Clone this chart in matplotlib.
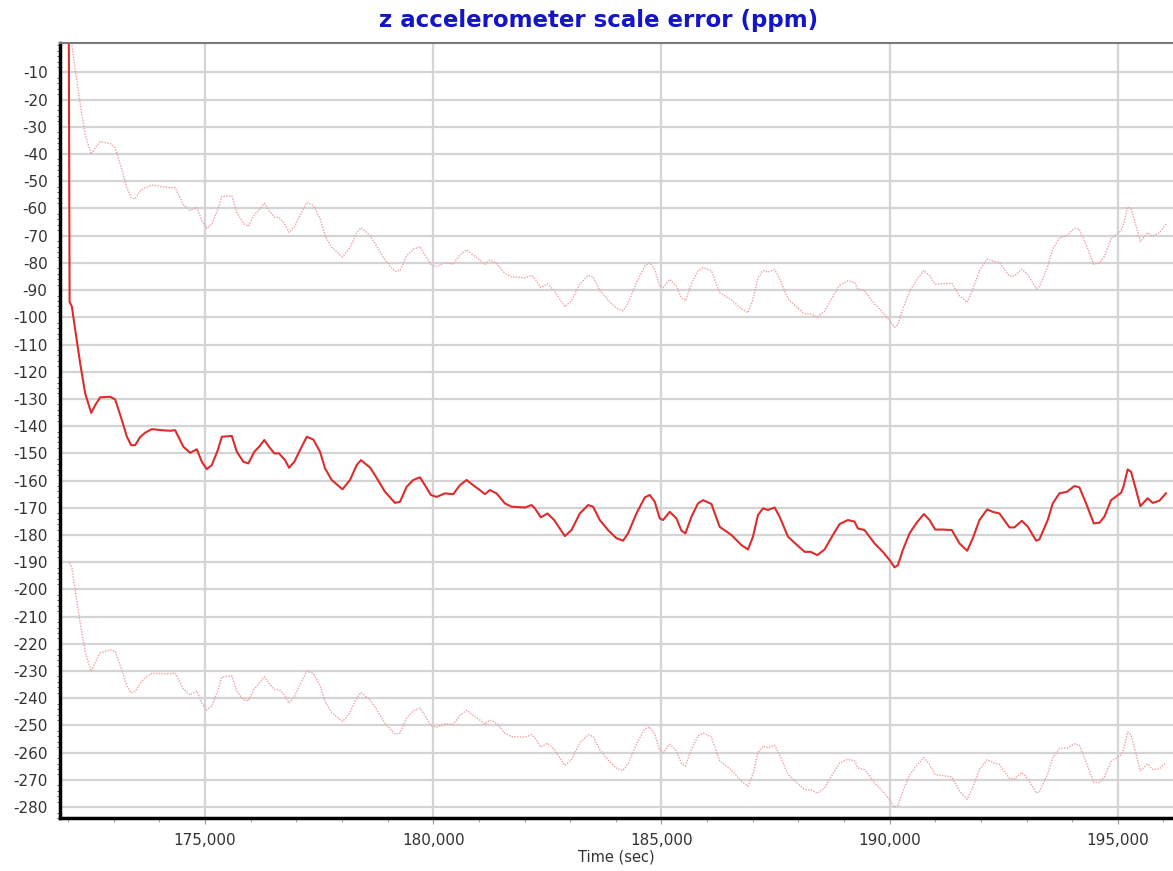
import numpy as np
import matplotlib
matplotlib.use("Agg")
import matplotlib.pyplot as plt
from matplotlib.ticker import MultipleLocator, FuncFormatter

plt.rcParams["axes.unicode_minus"] = False

# time (sec) and z accelerometer scale error estimate (ppm)
time_sec = [
    172010, 172030, 172081, 172154, 172263, 172372, 172504, 172591, 172701, 172920,
    173029, 173176, 173286, 173380, 173467, 173577, 173686, 173833, 174052, 174234,
    174343, 174525, 174672, 174818, 174928, 175037, 175147, 175278, 175366, 175585,
    175694, 175839, 175948, 176079, 176182, 176298, 176401, 176517, 176620, 176752,
    176839, 176955, 177080, 177227, 177371, 177518, 177628, 177774, 178010, 178175,
    178322, 178416, 178613, 178722, 178941, 179160, 179270, 179416, 179561, 179708,
    179817, 179948, 180073, 180255, 180437, 180583, 180730, 180875, 181021, 181131,
    181240, 181387, 181569, 181715, 182007, 182153, 182226, 182357, 182504, 182648,
    182883, 183029, 183211, 183393, 183502, 183649, 183831, 184015, 184159, 184269,
    184452, 184634, 184744, 184853, 184963, 185035, 185182, 185328, 185438, 185525,
    185657, 185801, 185911, 186095, 186276, 186533, 186752, 186896, 187006, 187115,
    187225, 187334, 187481, 187590, 187772, 187919, 188138, 188269, 188416, 188576,
    188757, 188904, 189086, 189232, 189305, 189451, 189670, 189852, 189999, 190108,
    190181, 190290, 190437, 190583, 190750, 190875, 190999, 191166, 191363, 191531,
    191700, 191823, 191969, 192138, 192261, 192407, 192626, 192736, 192896, 193027,
    193211, 193283, 193465, 193574, 193721, 193890, 194050, 194159, 194306, 194472,
    194597, 194706, 194853, 195072, 195129, 195217, 195291, 195401, 195495, 195655,
    195764, 195911, 196057,
]

scale_err = [
    20.0, -94.3, -96.1, -104.7, -117.0, -128.0, -135.1, -132.3, -129.4, -129.2,
    -130.2, -137.8, -143.9, -147.0, -147.0, -144.0, -142.4, -141.1, -141.5, -141.7,
    -141.5, -147.6, -149.8, -148.5, -153.1, -155.8, -154.3, -148.8, -143.9, -143.6,
    -149.4, -153.1, -153.7, -149.4, -147.6, -145.1, -147.6, -150.0, -150.0, -152.5,
    -155.3, -153.1, -148.8, -143.9, -144.9, -149.4, -155.5, -159.8, -163.2, -159.8,
    -154.3, -152.5, -155.2, -158.0, -164.1, -168.2, -167.8, -162.3, -159.8, -158.8,
    -161.7, -165.3, -166.0, -164.7, -165.0, -161.7, -159.8, -161.7, -163.5, -165.0,
    -163.5, -164.7, -168.4, -169.6, -169.9, -169.0, -170.2, -173.5, -172.1, -174.5,
    -180.4, -178.2, -172.1, -169.0, -169.6, -174.5, -178.2, -181.2, -182.1, -179.4,
    -172.1, -166.2, -165.3, -167.8, -173.9, -174.5, -171.5, -173.9, -178.4, -179.4,
    -173.3, -168.4, -167.2, -168.6, -177.0, -180.0, -183.7, -185.3, -180.6, -172.7,
    -170.2, -170.8, -169.9, -173.3, -180.6, -182.9, -186.2, -186.2, -187.4, -185.3,
    -180.0, -176.0, -174.5, -175.1, -177.6, -178.2, -183.1, -186.2, -189.2, -191.9,
    -191.1, -185.5, -179.4, -175.7, -172.3, -174.5, -178.0, -178.0, -178.2, -183.1,
    -185.8, -181.2, -174.5, -170.6, -171.5, -172.1, -177.2, -177.2, -174.8, -176.9,
    -182.1, -181.6, -174.5, -168.4, -164.7, -164.1, -162.0, -162.5, -168.4, -175.7,
    -175.5, -173.3, -167.2, -164.5, -162.0, -155.9, -156.8, -163.5, -169.4, -166.5,
    -168.2, -167.4, -164.7,
]

# half width of the uncertainty envelope (ppm), read as the gap to the dotted lines
band = [
    np.nan, 96.0, 96.0, 95.5, 95.5, 95.0, 95.0, 94.5, 94.0, 93.0,
    92.5, 92.0, 91.5, 91.0, 90.5, 90.5, 90.0, 89.7, 89.5, 89.3,
    89.2, 89.0, 89.0, 88.8, 88.7, 88.5, 88.5, 88.4, 88.3, 88.2,
    88.0, 87.5, 87.2, 87.1, 87.0, 87.0, 86.9, 86.8, 86.7, 86.6,
    86.5, 86.3, 86.2, 86.1, 86.0, 85.8, 85.6, 85.5, 85.4, 85.4,
    85.4, 85.4, 85.3, 85.2, 85.1, 85.0, 85.0, 84.9, 84.8, 84.8,
    84.7, 84.7, 84.7, 84.7, 84.6, 84.6, 84.6, 84.6, 84.5, 84.5,
    84.5, 84.5, 84.5, 84.5, 84.4, 84.4, 84.4, 84.4, 84.4, 84.3,
    84.3, 84.3, 84.3, 84.4, 84.4, 84.4, 84.5, 84.5, 84.5, 84.6,
    84.8, 85.0, 85.3, 85.3, 85.3, 85.4, 85.4, 85.4, 85.5, 85.5,
    85.5, 85.5, 85.5, 85.7, 86.0, 86.4, 86.8, 87.0, 87.2, 87.3,
    87.4, 87.4, 87.4, 87.4, 87.4, 87.4, 87.4, 87.4, 87.5, 87.6,
    87.7, 87.8, 87.9, 87.9, 88.0, 88.0, 88.0, 88.0, 88.0, 88.2,
    88.3, 88.6, 88.9, 89.2, 89.5, 89.8, 90.1, 90.4, 90.7, 91.0,
    91.3, 91.5, 91.7, 92.0, 92.1, 92.2, 92.3, 92.4, 92.5, 92.6,
    92.7, 92.8, 93.2, 93.5, 93.8, 94.2, 94.7, 94.8, 95.0, 95.2,
    95.5, 95.7, 96.0, 96.3, 96.4, 96.5, 96.6, 97.0, 97.2, 97.6,
    98.0, 98.5, 99.0,
]

y_ticks = list(range(-280, 0, 10))
x_ticks = [175000, 180000, 185000, 190000, 195000]

t = np.array(time_sec, dtype=float)
v = np.array(scale_err)
w = np.array(band)

fig = plt.figure(figsize=(11.73, 8.71), dpi=100)
ax = fig.add_axes([60 / 1173, 53 / 871, 1113 / 1173, 775 / 871])

ax.plot(t, v + w, color="#f0a0a0", lw=1.0, ls=(0, (1, 1)))
ax.plot(t, v - w, color="#f0a0a0", lw=1.0, ls=(0, (1, 1)))
ax.plot(t, v, color="#dd2c2c", lw=1.5)

ax.set_xlim(171820, 196210)
ax.set_ylim(-284, 0.8)
ax.set_yticks(y_ticks)
ax.set_xticks(x_ticks)
ax.xaxis.set_minor_locator(MultipleLocator(1000))
ax.yaxis.set_minor_locator(MultipleLocator(2))
ax.xaxis.set_major_formatter(FuncFormatter(lambda x, p: f"{int(x):,}"))

ax.grid(True, which="major", color="#d4d4d4", lw=1.6)
ax.set_axisbelow(True)

ax.spines["right"].set_visible(False)
ax.spines["top"].set_color("#7a7a7a")
ax.spines["top"].set_linewidth(1.5)
ax.spines["left"].set_color("black")
ax.spines["left"].set_linewidth(2.5)
ax.spines["bottom"].set_color("black")
ax.spines["bottom"].set_linewidth(2.5)

ax.tick_params(axis="y", which="major", length=0, pad=9, labelsize=11, labelcolor="#333333")
ax.tick_params(axis="y", which="minor", length=2, width=0.6, color="#444444")
ax.tick_params(axis="x", which="major", length=4, color="#999999", pad=7,
               labelsize=11, labelcolor="#333333")
ax.tick_params(axis="x", which="minor", length=3, color="#999999")

ax.set_xlabel("Time (sec)", fontsize=10.5, color="#333333", labelpad=1)

fig.text(599 / 1173, 1 - 21 / 871, "z accelerometer scale error (ppm)",
         ha="center", va="center", fontsize=16.5, fontweight="bold", color="#1414c8")

fig.savefig("out.png", dpi=100)
